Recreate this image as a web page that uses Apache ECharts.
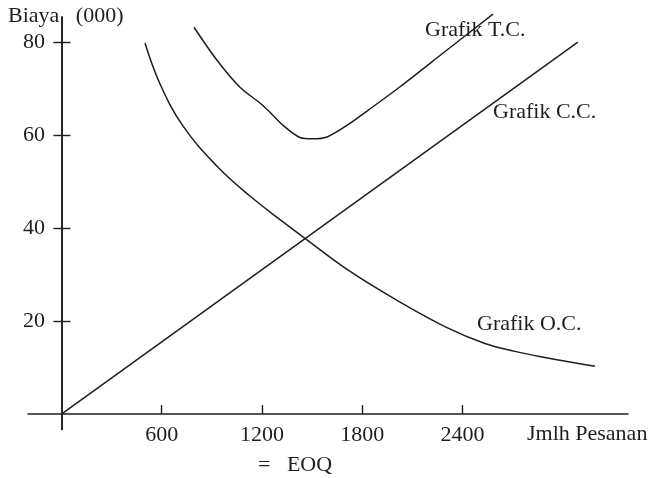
<!DOCTYPE html>
<html>
<head>
<meta charset="utf-8">
<script src="https://cdn.jsdelivr.net/npm/echarts@6/dist/echarts.min.js"></script>
<style>html,body{margin:0;padding:0;background:#fff;}#c{width:650px;height:478px;}</style>
</head>
<body>
<div id="c"></div>
<script>
// Tick values
const xTicks = [600, 1200, 1800, 2400];
const yTicks = [20, 40, 60, 80];

// Carrying cost (C.C.) - straight line from origin
const ccData = [[0, 0], [3090, 80]];

// Ordering cost (O.C.)
const ocData = [
  [500, 79.8], [590, 71.0], [727, 62.0], [931, 53.3], [1128, 46.9],
  [1320, 41.5], [1457, 37.8], [1714, 31.0], [1983, 25.0], [2307, 18.6],
  [2534, 15.2], [2714, 13.5], [2893, 12.2], [3192, 10.3]
];

// Total cost (T.C.)
const tcData = [
  [793, 83.2], [931, 76.1], [1068, 70.3], [1188, 66.9], [1248, 64.9],
  [1326, 62.1], [1427, 59.5], [1505, 59.2], [1589, 59.6], [1708, 62.1],
  [1864, 66.1], [2026, 70.4], [2307, 78.3], [2582, 86.0]
];

// Texts
const yAxisTitle = 'Biaya   (000)';
const xAxisTitle = 'Jmlh Pesanan';
const eoqText = '=   EOQ';
const tcLabel = 'Grafik T.C.';
const ccLabel = 'Grafik C.C.';
const ocLabel = 'Grafik O.C.';

const FONT = 'Liberation Serif';
const INK = '#1e1e1e';
const FS = 22;
const txt = {fontFamily: FONT, fontSize: FS, fontWeight: 'normal', color: INK};

function t(text, left, top) {
  return {text: text, left: left, top: top, padding: 0, textStyle: txt};
}

const chart = echarts.init(document.getElementById('c'), null, {renderer: 'canvas'});
const lineStyle = {color: INK, width: 1.5};
chart.setOption({
  animation: false,
  backgroundColor: '#ffffff',
  title: [
    t(yAxisTitle, 8, 5),
    t(tcLabel, 425, 19),
    t(ccLabel, 493, 101),
    t(ocLabel, 477, 313),
    t(xAxisTitle, 527, 423),
    t(eoqText, 258, 454)
  ],
  grid: {left: 28, width: 600, top: 17, height: 412.5, containLabel: false, outerBoundsMode: 'none'},
  xAxis: {
    type: 'value', min: -200, max: 3390,
    axisLine: {show: true, onZero: true, onZeroAxisIndex: 0, lineStyle: {color: INK, width: 1.6}},
    axisTick: {show: true, inside: true, length: 9, customValues: xTicks, lineStyle: {color: INK, width: 1.4}},
    axisLabel: {show: true, customValues: xTicks, margin: -5.5, fontFamily: FONT, fontSize: FS, color: INK,
      formatter: function (v) { return String(v); }},
    splitLine: {show: false}
  },
  yAxis: [
    {
      type: 'value', min: -3.3, max: 85.4, position: 'left',
      axisLine: {show: true, onZero: true, onZeroAxisIndex: 0, lineStyle: {color: INK, width: 1.6}},
      axisTick: {show: true, inside: false, length: 8, customValues: yTicks, lineStyle: {color: INK, width: 1.4}},
      axisLabel: {show: true, customValues: yTicks, margin: -17, fontFamily: FONT, fontSize: FS, color: INK,
        formatter: function (v) { return String(v); }},
      splitLine: {show: false}
    },
    {
      type: 'value', min: -3.3, max: 85.4, position: 'left',
      axisLine: {show: true, onZero: true, onZeroAxisIndex: 0, lineStyle: {color: INK, width: 1.6}},
      axisTick: {show: true, inside: true, length: 9, customValues: yTicks, lineStyle: {color: INK, width: 1.4}},
      axisLabel: {show: false},
      splitLine: {show: false}
    }
  ],
  series: [
    {type: 'line', name: 'C.C.', data: ccData, showSymbol: false, lineStyle: lineStyle, clip: false, silent: true},
    {type: 'line', name: 'O.C.', data: ocData, showSymbol: false, smooth: 0.4, lineStyle: lineStyle, clip: false, silent: true},
    {type: 'line', name: 'T.C.', data: tcData, showSymbol: false, smooth: 0.3, lineStyle: lineStyle, clip: false, silent: true}
  ]
});
</script>
</body>
</html>
